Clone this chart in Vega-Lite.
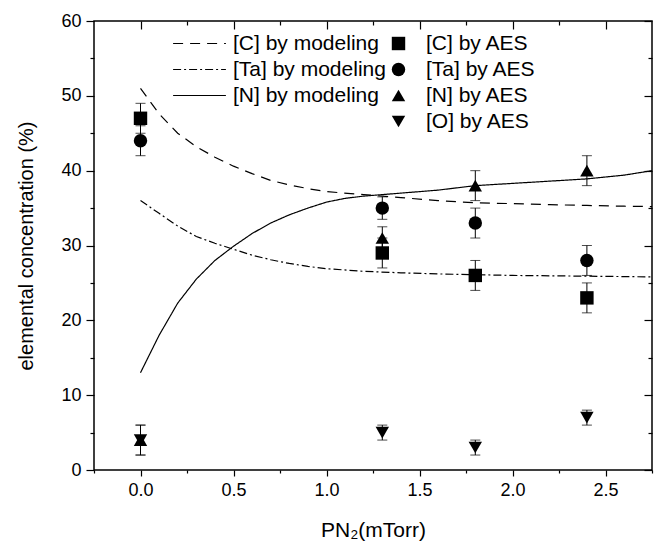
{
  "$schema": "https://vega.github.io/schema/vega-lite/v6.json",
  "width": 558,
  "height": 449,
  "autosize": "none",
  "padding": {"left": 94, "top": 21, "right": 4, "bottom": 74},
  "config": {
    "font": "Liberation Sans",
    "view": {"stroke": "black", "strokeWidth": 1.5},
    "axis": {"domain": false, "grid": false, "tickColor": "black", "labelColor": "black", "titleColor": "black", "labelFont": "Liberation Sans", "titleFont": "Liberation Sans", "titleFontWeight": "normal", "tickWidth": 1.2},
    "legend": {"labelFont": "Liberation Sans", "labelColor": "black", "padding": 0}
  },
  "datasets": {
    "model": [
      {"series": "[C] by modeling", "x": 0, "y": 51.0},
      {"series": "[C] by modeling", "x": 0.1, "y": 47.6},
      {"series": "[C] by modeling", "x": 0.2, "y": 45.0},
      {"series": "[C] by modeling", "x": 0.3, "y": 43.2},
      {"series": "[C] by modeling", "x": 0.4, "y": 41.8},
      {"series": "[C] by modeling", "x": 0.5, "y": 40.6},
      {"series": "[C] by modeling", "x": 0.6, "y": 39.6},
      {"series": "[C] by modeling", "x": 0.7, "y": 38.7},
      {"series": "[C] by modeling", "x": 0.8, "y": 38.1},
      {"series": "[C] by modeling", "x": 0.9, "y": 37.6},
      {"series": "[C] by modeling", "x": 1.0, "y": 37.2},
      {"series": "[C] by modeling", "x": 1.2, "y": 36.8},
      {"series": "[C] by modeling", "x": 1.4, "y": 36.4},
      {"series": "[C] by modeling", "x": 1.6, "y": 36.0},
      {"series": "[C] by modeling", "x": 1.8, "y": 35.7},
      {"series": "[C] by modeling", "x": 2.0, "y": 35.6},
      {"series": "[C] by modeling", "x": 2.2, "y": 35.45},
      {"series": "[C] by modeling", "x": 2.4, "y": 35.35},
      {"series": "[C] by modeling", "x": 2.6, "y": 35.25},
      {"series": "[C] by modeling", "x": 2.75, "y": 35.2},
      {"series": "[Ta] by modeling", "x": 0, "y": 36.0},
      {"series": "[Ta] by modeling", "x": 0.1, "y": 34.3},
      {"series": "[Ta] by modeling", "x": 0.2, "y": 32.6},
      {"series": "[Ta] by modeling", "x": 0.3, "y": 31.2},
      {"series": "[Ta] by modeling", "x": 0.4, "y": 30.3},
      {"series": "[Ta] by modeling", "x": 0.5, "y": 29.5},
      {"series": "[Ta] by modeling", "x": 0.6, "y": 28.7},
      {"series": "[Ta] by modeling", "x": 0.7, "y": 28.1},
      {"series": "[Ta] by modeling", "x": 0.8, "y": 27.6},
      {"series": "[Ta] by modeling", "x": 0.9, "y": 27.2},
      {"series": "[Ta] by modeling", "x": 1.0, "y": 26.9},
      {"series": "[Ta] by modeling", "x": 1.2, "y": 26.55},
      {"series": "[Ta] by modeling", "x": 1.4, "y": 26.35},
      {"series": "[Ta] by modeling", "x": 1.6, "y": 26.2},
      {"series": "[Ta] by modeling", "x": 1.8, "y": 26.1},
      {"series": "[Ta] by modeling", "x": 2.0, "y": 26.0},
      {"series": "[Ta] by modeling", "x": 2.2, "y": 25.95},
      {"series": "[Ta] by modeling", "x": 2.4, "y": 25.9},
      {"series": "[Ta] by modeling", "x": 2.6, "y": 25.85},
      {"series": "[Ta] by modeling", "x": 2.75, "y": 25.8},
      {"series": "[N] by modeling", "x": 0, "y": 13.0},
      {"series": "[N] by modeling", "x": 0.05, "y": 15.5},
      {"series": "[N] by modeling", "x": 0.1, "y": 18.0},
      {"series": "[N] by modeling", "x": 0.2, "y": 22.3},
      {"series": "[N] by modeling", "x": 0.3, "y": 25.5},
      {"series": "[N] by modeling", "x": 0.4, "y": 28.0},
      {"series": "[N] by modeling", "x": 0.5, "y": 29.9},
      {"series": "[N] by modeling", "x": 0.6, "y": 31.6},
      {"series": "[N] by modeling", "x": 0.7, "y": 33.0},
      {"series": "[N] by modeling", "x": 0.8, "y": 34.1},
      {"series": "[N] by modeling", "x": 0.9, "y": 35.0},
      {"series": "[N] by modeling", "x": 1.0, "y": 35.8},
      {"series": "[N] by modeling", "x": 1.1, "y": 36.3},
      {"series": "[N] by modeling", "x": 1.2, "y": 36.6},
      {"series": "[N] by modeling", "x": 1.4, "y": 37.0},
      {"series": "[N] by modeling", "x": 1.6, "y": 37.4},
      {"series": "[N] by modeling", "x": 1.8, "y": 38.0},
      {"series": "[N] by modeling", "x": 2.0, "y": 38.3},
      {"series": "[N] by modeling", "x": 2.2, "y": 38.6},
      {"series": "[N] by modeling", "x": 2.4, "y": 38.9},
      {"series": "[N] by modeling", "x": 2.6, "y": 39.4},
      {"series": "[N] by modeling", "x": 2.75, "y": 40.0}
    ],
    "aes": [
      {"series": "[C] by AES", "x": 0, "y": 47, "lo": 45, "hi": 49},
      {"series": "[Ta] by AES", "x": 0, "y": 44, "lo": 42, "hi": 46},
      {"series": "[N] by AES", "x": 0, "y": 4, "lo": 2, "hi": 6},
      {"series": "[O] by AES", "x": 0, "y": 4, "lo": 2, "hi": 6},
      {"series": "[C] by AES", "x": 1.3, "y": 29, "lo": 27, "hi": 31},
      {"series": "[Ta] by AES", "x": 1.3, "y": 35, "lo": 33.5, "hi": 36.5},
      {"series": "[N] by AES", "x": 1.3, "y": 31, "lo": 29.5, "hi": 32.5},
      {"series": "[O] by AES", "x": 1.3, "y": 5, "lo": 4, "hi": 6},
      {"series": "[C] by AES", "x": 1.8, "y": 26, "lo": 24, "hi": 28},
      {"series": "[Ta] by AES", "x": 1.8, "y": 33, "lo": 31, "hi": 35},
      {"series": "[N] by AES", "x": 1.8, "y": 38, "lo": 36, "hi": 40},
      {"series": "[O] by AES", "x": 1.8, "y": 3, "lo": 2, "hi": 4},
      {"series": "[C] by AES", "x": 2.4, "y": 23, "lo": 21, "hi": 25},
      {"series": "[Ta] by AES", "x": 2.4, "y": 28, "lo": 26, "hi": 30},
      {"series": "[N] by AES", "x": 2.4, "y": 40, "lo": 38, "hi": 42},
      {"series": "[O] by AES", "x": 2.4, "y": 7, "lo": 6, "hi": 8}
    ]
  },
  "resolve": {"axis": {"x": "independent", "y": "independent"}},
  "layer": [
    {
      "data": {"name": "model"},
      "mark": {"type": "line", "color": "black", "strokeWidth": 1.2},
      "encoding": {
        "x": {"field": "x", "type": "quantitative", "scale": {"domain": [-0.25, 2.75], "nice": false, "zero": false},
          "axis": {"orient": "bottom", "values": [0, 0.5, 1, 1.5, 2, 2.5], "format": ".1f", "tickSize": 6, "labelFontSize": 18, "labelPadding": 5, "title": "PN₂(mTorr)", "titleFontSize": 21, "titlePadding": 20}},
        "y": {"field": "y", "type": "quantitative", "scale": {"domain": [0, 60], "nice": false, "zero": false},
          "axis": {"orient": "left", "values": [0, 10, 20, 30, 40, 50, 60], "tickSize": 8, "labelFontSize": 18, "labelPadding": 5, "title": "elemental concentration (%)", "titleFontSize": 20, "titlePadding": 24}},
        "strokeDash": {"field": "series", "type": "nominal",
          "scale": {"domain": ["[C] by modeling", "[Ta] by modeling", "[N] by modeling"], "range": [[10, 7], [8, 3, 2, 3], [1, 0]]},
          "legend": {"orient": "none", "legendX": 95, "legendY": 12, "title": null, "labelFontSize": 21, "symbolType": "M-4.8,0H4.8", "symbolSize": 121, "symbolStrokeWidth": 1.2, "symbolStrokeColor": "black", "symbolFillColor": "transparent", "rowPadding": 4, "labelOffset": 23}}
      }
    },
    {
      "data": {"name": "aes"},
      "mark": {"type": "errorbar", "color": "black", "ticks": {"size": 10, "color": "black"}, "rule": {"strokeWidth": 1}},
      "encoding": {
        "x": {"field": "x", "type": "quantitative", "scale": {"domain": [-0.25, 2.75], "nice": false, "zero": false}, "axis": null},
        "y": {"field": "lo", "type": "quantitative", "scale": {"domain": [0, 60], "nice": false, "zero": false}, "axis": null},
        "y2": {"field": "hi"}
      }
    },
    {
      "data": {"name": "aes"},
      "mark": {"type": "point", "filled": true, "opacity": 1, "color": "black", "size": 180},
      "encoding": {
        "x": {"field": "x", "type": "quantitative", "scale": {"domain": [-0.25, 2.75], "nice": false, "zero": false},
          "axis": {"orient": "bottom", "values": [-0.25, 0.25, 0.75, 1.25, 1.75, 2.25, 2.75], "tickSize": 3, "labels": false, "title": null}},
        "y": {"field": "y", "type": "quantitative", "scale": {"domain": [0, 60], "nice": false, "zero": false},
          "axis": {"orient": "left", "values": [5, 15, 25, 35, 45, 55], "tickSize": 4, "labels": false, "title": null}},
        "shape": {"field": "series", "type": "nominal",
          "scale": {"domain": ["[C] by AES", "[Ta] by AES", "[N] by AES", "[O] by AES"], "range": ["square", "circle", "triangle-up", "triangle-down"]},
          "legend": {"orient": "none", "legendX": 294, "legendY": 12, "title": null, "labelFontSize": 21, "symbolSize": 180, "symbolFillColor": "black", "symbolStrokeColor": "black", "rowPadding": 4, "labelOffset": 17}}
      }
    },
    {
      "data": {"name": "aes"},
      "mark": {"type": "point", "opacity": 0},
      "encoding": {
        "x": {"field": "x", "type": "quantitative", "scale": {"domain": [-0.25, 2.75], "nice": false, "zero": false},
          "axis": {"orient": "top", "values": [0, 0.5, 1, 1.5, 2, 2.5], "tickSize": -8, "labels": false, "title": null}},
        "y": {"field": "y", "type": "quantitative", "scale": {"domain": [0, 60], "nice": false, "zero": false},
          "axis": {"orient": "right", "values": [0, 10, 20, 30, 40, 50, 60], "tickSize": -8, "labels": false, "title": null}}
      }
    },
    {
      "data": {"name": "aes"},
      "mark": {"type": "point", "opacity": 0},
      "encoding": {
        "x": {"field": "x", "type": "quantitative", "scale": {"domain": [-0.25, 2.75], "nice": false, "zero": false},
          "axis": {"orient": "top", "values": [0.25, 0.75, 1.25, 1.75, 2.25], "tickSize": -4, "labels": false, "title": null}},
        "y": {"field": "y", "type": "quantitative", "scale": {"domain": [0, 60], "nice": false, "zero": false},
          "axis": {"orient": "right", "values": [5, 15, 25, 35, 45, 55], "tickSize": -4, "labels": false, "title": null}}
      }
    }
  ]
}
